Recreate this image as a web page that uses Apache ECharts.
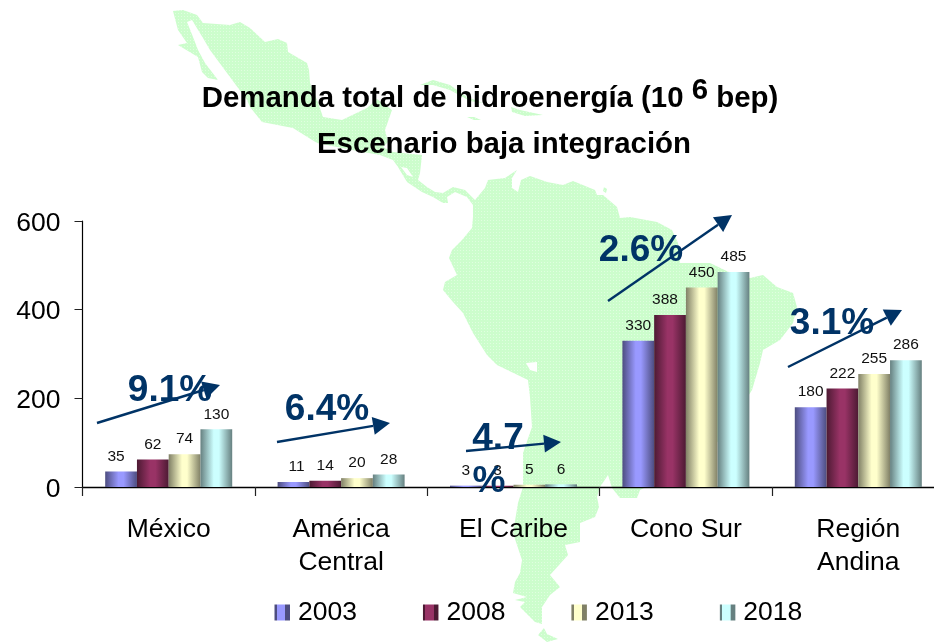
<!DOCTYPE html>
<html><head><meta charset="utf-8">
<style>html,body{margin:0;padding:0;background:#fff}#c{width:934px;height:642px}</style>
<script src="https://cdn.jsdelivr.net/npm/echarts@6/dist/echarts.min.js"></script>
</head><body><div id="c"></div>
<script>
const categories = ['México', 'América\nCentral', 'El Caribe', 'Cono Sur', 'Región\nAndina'];
const years = ['2003', '2008', '2013', '2018'];
const v2003 = [35, 11, 3, 330, 180];
const v2008 = [62, 14, 3, 388, 222];
const v2013 = [74, 20, 5, 450, 255];
const v2018 = [130, 28, 6, 485, 286];
const yTicks = [0, 200, 400, 600];
const edgeColors = ['#4d4d80', '#4d1a33', '#808066', '#668080'];
const midColors = ['#9999ff', '#993366', '#ffffcc', '#ccffff'];

const FONT = '"Liberation Sans", Arial, sans-serif';
const NAVY = '#003366';

function mapFill(){
  const c=document.createElement('canvas'); c.width=3; c.height=3;
  const g=c.getContext('2d');
  g.fillStyle='#ccfdcc'; g.fillRect(0,0,3,3);
  g.fillStyle='#e0fee0'; g.fillRect(1,1,1,1);
  return {image:c,repeat:'repeat'};
}
const MAP = mapFill();

const mapMain = [[173,11],[183,10],[197,15],[203,23],[230,25],[240,22],[250,28],[265,42],[278,39],[287,43],[288,52],[307,63],[309,70],[310,83],[317,100],[323,117],[342,120],[367,108],[377,99],[392,110],[385,130],[388,142],[383,147],[393,152],[422,155],[420,173],[418,180],[427,187],[435,192],[443,193],[453,187],[465,190],[475,200],
[485,188],[488,180],[505,178],[517,170],[512,178],[512,188],[518,192],[521,180],[530,176],[547,182],[563,185],[573,181],[595,190],[597,195],[603,195],[617,207],[620,218],[630,217],[657,222],[672,230],[678,243],[680,263],[693,263],[710,263],[735,275],[750,278],[763,275],[777,287],[793,293],[797,307],[793,323],[780,340],[763,350],[760,363],[752,390],[720,440],[680,470],[640,490],[637,498],[620,498],[612,488],[608,475],[600,487],[597,497],[599,507],[595,517],[580,523],[580,542],[565,545],[568,555],[550,575],[560,587],[550,595],[542,607],[542,624],[535,622],[520,607],[525,602],[515,600],[527,597],[513,593],[515,582],[520,573],[522,560],[513,533],[518,503],[523,487],[523,453],[532,427],[530,397],[528,380],[497,365],[487,355],[473,333],[463,313],[453,302],[443,290],[445,282],[457,275],[449,258],[452,250],[462,240],[472,228],[473,217],[473,205],
[467,197],[455,192],[447,197],[448,203],[443,203],[433,197],[422,192],[407,182],[398,167],[393,160],[380,155],[363,152],[337,147],[317,143],[293,128],[262,122],[250,107],[247,100],[227,73],[210,50],[203,38],[192,20],[187,22],[193,37],[198,50],[205,63],[218,80],[208,78],[202,72],[198,57],[178,45],[187,43],[178,30]];
const mapIslands = [
 [[420,85],[433,80],[450,85],[467,97],[483,103],[470,101],[450,90],[433,85]],
 [[467,117],[474,117],[481,120],[474,120]],
 [[511,107],[520,110],[543,115],[525,116],[512,112]],
 [[604,187],[607,189],[606,193],[603,191]],
 [[538,635],[544,628],[547,634],[558,639],[547,642]]
];
const mapHoles = [
 [[526,363],[537,362],[537,372],[530,370]],
 [[401,167],[407,168],[413,177],[407,175]]
];

const arrows = [
 [[97,423],[220,385]], [[277,442],[390,423]], [[466,451],[561,442]], [[608,301],[732,215]], [[788,367],[902,310]]
];
const rateLabels = [
 ['9.1%',170,391], ['6.4%',327,410], ['4.7',498,439], ['%',489,482], ['2.6%',641,251], ['3.1%',832,324]
];
const labelShift = {'0-0': -5, '1-3': -5, '0-1': 3};

function head(a){
  const [p,q]=a, dx=q[0]-p[0], dy=q[1]-p[1], l=Math.hypot(dx,dy), ux=dx/l, uy=dy/l, L=17, W=9;
  const bx=q[0]-ux*L, by=q[1]-uy*L;
  return {base:[bx,by], pts:[q,[bx-uy*W,by+ux*W],[bx+uy*W,by-ux*W]]};
}
const graphics = [];
graphics.push({type:'polygon',z:-1,silent:true,shape:{points:mapMain},style:{fill:MAP}});
mapIslands.forEach(p=>graphics.push({type:'polygon',z:-1,silent:true,shape:{points:p},style:{fill:MAP}}));
mapHoles.forEach(p=>graphics.push({type:'polygon',z:-1,silent:true,shape:{points:p},style:{fill:'#fff'}}));
arrows.forEach(a=>{
  const h=head(a);
  graphics.push({type:'line',z:50,silent:true,shape:{x1:a[0][0],y1:a[0][1],x2:h.base[0],y2:h.base[1]},style:{stroke:NAVY,lineWidth:2.4}});
  graphics.push({type:'polygon',z:50,silent:true,shape:{points:h.pts},style:{fill:NAVY}});
});
rateLabels.forEach(r=>graphics.push({type:'text',z:60,silent:true,x:r[1],y:r[2],style:{text:r[0],fill:NAVY,font:'bold 37px '+FONT,textAlign:'center',textVerticalAlign:'middle'}}));

const grad = i => new echarts.graphic.LinearGradient(0,0,1,0,[
  {offset:0,color:edgeColors[i]},{offset:.42,color:midColors[i]},{offset:.58,color:midColors[i]},{offset:1,color:edgeColors[i]}]);
const swatch = i => new echarts.graphic.LinearGradient(0,0,1,0,[
  {offset:0,color:edgeColors[i]},{offset:.15,color:edgeColors[i]},{offset:.16,color:midColors[i]},
  {offset:.68,color:midColors[i]},{offset:.7,color:edgeColors[i]},{offset:1,color:edgeColors[i]}]);

const allValues = [v2003,v2008,v2013,v2018];
const series = years.map((y,i)=>({
  name:y,type:'bar',barWidth:31.75,barGap:0,
  itemStyle:{color:grad(i)},
  data:allValues[i].map((v,j)=>({value:v,label:{offset:[labelShift[i+'-'+j]||0,0]}})),
  label:{show:true,position:'top',distance:7,fontFamily:FONT,fontSize:15.5,color:'#111'},
  animation:false,z:5
}));

const chart = echarts.init(document.getElementById('c'),null,{renderer:'canvas'});
chart.setOption({
  animation:false,backgroundColor:'#fff',
  title:[
   {left:485,top:74,textAlign:'center',z:40,
    text:'{a|Demanda total de hidroenergía (10 }{s|6}{a| bep)}',
    textStyle:{rich:{a:{fontFamily:FONT,fontWeight:'bold',fontSize:29.4,color:'#000',lineHeight:34,verticalAlign:'bottom'},
                     s:{fontFamily:FONT,fontWeight:'bold',fontSize:29.4,color:'#000',lineHeight:34,padding:[0,0,8,0],verticalAlign:'bottom'}}}},
   {left:499,top:125,textAlign:'center',z:40,text:'Escenario baja integración',
    textStyle:{fontFamily:FONT,fontWeight:'bold',fontSize:29.4,color:'#000'}}
  ],
  grid:{left:82.5,top:221,right:-10.5,height:266,outerBoundsMode:'none'},
  legend:{left:274.5,top:599,padding:0,itemWidth:15.5,itemHeight:16,itemGap:66,
    data:years.map((y,i)=>({name:y,itemStyle:{color:swatch(i)}})),
    textStyle:{fontFamily:FONT,fontSize:26.5,color:'#000',padding:[2,0,0,3]},icon:'rect'},
  xAxis:{type:'category',data:categories,
    axisLine:{lineStyle:{color:'#000',width:1.4}},
    axisTick:{show:true,length:9,lineStyle:{color:'#222',width:1.2}},
    axisLabel:{interval:0,margin:26,fontFamily:FONT,fontSize:26.5,lineHeight:33,color:'#000'}},
  yAxis:{type:'value',min:yTicks[0],max:yTicks[3],interval:yTicks[1]-yTicks[0],
    axisLine:{show:true,lineStyle:{color:'#000',width:1.2}},
    axisTick:{show:true,length:8,lineStyle:{color:'#222',width:1}},
    splitLine:{show:false},
    axisLabel:{margin:22,verticalAlign:'top',lineHeight:5,fontFamily:FONT,fontSize:26.5,color:'#000'}},
  series,
  graphic:graphics
});
</script></body></html>
